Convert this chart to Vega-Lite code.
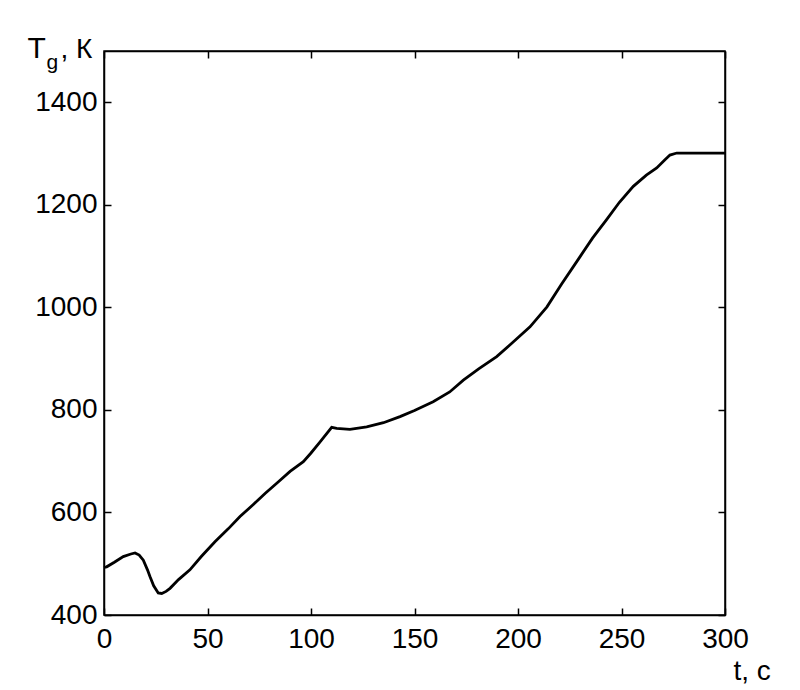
{
  "$schema": "https://vega.github.io/schema/vega-lite/v6.json",
  "width": 621,
  "height": 564,
  "autosize": "none",
  "padding": {"left": 104, "top": 51, "right": 75, "bottom": 75},
  "background": "white",
  "config": {
    "view": {"stroke": "black", "strokeWidth": 1.5},
    "axis": {
      "grid": false,
      "domainColor": "black",
      "domainWidth": 1.5,
      "tickColor": "black",
      "tickWidth": 1.5,
      "tickSize": -7,
      "labelFont": "Liberation Sans",
      "labelFontSize": 28,
      "labelColor": "black",
      "titleFont": "Liberation Sans",
      "titleFontWeight": "normal",
      "titleColor": "black",
      "titleFontSize": 28
    }
  },
  "data": {
    "values": [
      {"t": 0, "T": 493}, {"t": 1.3, "T": 494}, {"t": 5, "T": 503}, {"t": 9.3, "T": 514},
      {"t": 13, "T": 519}, {"t": 15, "T": 521}, {"t": 17, "T": 517}, {"t": 19, "T": 507},
      {"t": 21, "T": 488}, {"t": 22.2, "T": 475}, {"t": 24, "T": 457}, {"t": 26.2, "T": 443},
      {"t": 27.9, "T": 442}, {"t": 30, "T": 446}, {"t": 31.9, "T": 452}, {"t": 36, "T": 469},
      {"t": 41.5, "T": 488}, {"t": 47, "T": 514}, {"t": 53.6, "T": 543}, {"t": 60, "T": 568},
      {"t": 65.7, "T": 592}, {"t": 72, "T": 615}, {"t": 77.8, "T": 637}, {"t": 84, "T": 659},
      {"t": 89.9, "T": 680}, {"t": 96.3, "T": 699}, {"t": 100, "T": 716}, {"t": 104.3, "T": 737},
      {"t": 110, "T": 766}, {"t": 112.4, "T": 764}, {"t": 118.8, "T": 762}, {"t": 126.9, "T": 767},
      {"t": 135, "T": 775}, {"t": 143, "T": 787}, {"t": 150, "T": 799}, {"t": 159, "T": 816},
      {"t": 167, "T": 835}, {"t": 173.6, "T": 858}, {"t": 181, "T": 880}, {"t": 189.7, "T": 904},
      {"t": 197, "T": 930}, {"t": 205.8, "T": 962}, {"t": 214, "T": 1001}, {"t": 221, "T": 1045},
      {"t": 230, "T": 1099}, {"t": 236, "T": 1135}, {"t": 242.8, "T": 1171}, {"t": 249, "T": 1205},
      {"t": 255.7, "T": 1236}, {"t": 262, "T": 1258}, {"t": 267, "T": 1272}, {"t": 271, "T": 1288},
      {"t": 273.4, "T": 1297}, {"t": 276.7, "T": 1301}, {"t": 285, "T": 1301}, {"t": 300, "T": 1301}
    ]
  },
  "layer": [
    {
      "mark": {"type": "line", "color": "black", "strokeWidth": 2.8},
      "encoding": {
        "x": {
          "field": "t", "type": "quantitative",
          "scale": {"domain": [0, 300], "nice": false, "zero": false},
          "axis": {
            "orient": "bottom", "values": [0, 50, 100, 150, 200, 250, 300], "format": "d",
            "labelPadding": 17, "labelFlush": false,
            "title": "t, с", "titleX": 629, "titleY": 64,
            "titleAlign": "left", "titleBaseline": "alphabetic", "titleAngle": 0
          }
        },
        "y": {
          "field": "T", "type": "quantitative",
          "scale": {"domain": [400, 1500], "nice": false, "zero": false},
          "axis": {
            "orient": "left", "values": [400, 600, 800, 1000, 1200, 1400], "format": "d",
            "labelPadding": 14, "labelFlush": false,
            "title": "T", "titleX": -77, "titleY": 6, "titleFontSize": 30,
            "titleAlign": "left", "titleBaseline": "alphabetic", "titleAngle": 0
          }
        }
      }
    },
    {
      "mark": {"type": "line", "color": "black", "strokeOpacity": 0},
      "encoding": {
        "x": {
          "field": "t", "type": "quantitative",
          "scale": {"domain": [0, 300], "nice": false, "zero": false},
          "axis": {
            "orient": "top", "values": [0, 50, 100, 150, 200, 250, 300],
            "labels": false,
            "title": ", К", "titleX": -44, "titleY": 6,
            "titleAlign": "left", "titleBaseline": "alphabetic", "titleAngle": 0
          }
        },
        "y": {
          "field": "T", "type": "quantitative",
          "scale": {"domain": [400, 1500], "nice": false, "zero": false},
          "axis": {
            "orient": "right", "values": [400, 600, 800, 1000, 1200, 1400],
            "labels": false,
            "title": "g", "titleX": -679, "titleY": 17, "titleFontSize": 21,
            "titleAlign": "left", "titleBaseline": "alphabetic", "titleAngle": 0
          }
        }
      }
    }
  ],
  "resolve": {"axis": {"x": "independent", "y": "independent"}}
}
